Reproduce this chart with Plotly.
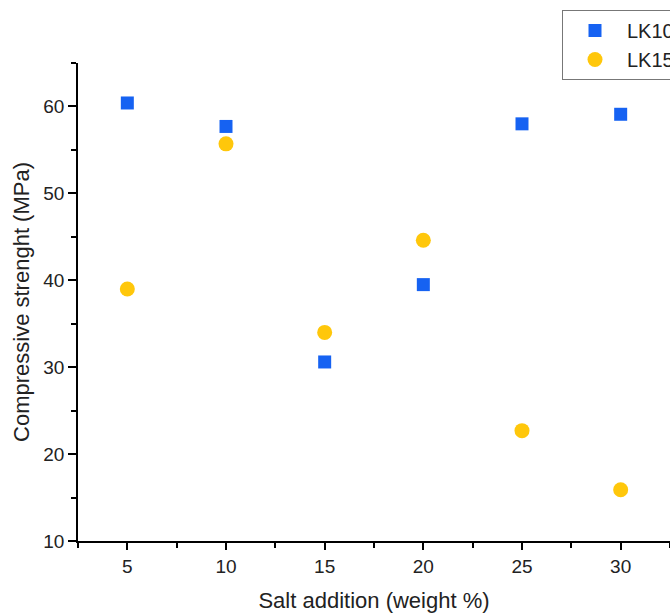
import plotly.graph_objects as go

salt = [5, 10, 15, 20, 25, 30]
lk10 = [60.4, 57.7, 30.6, 39.5, 58.0, 59.1]
lk15 = [39.0, 55.7, 34.0, 44.6, 22.7, 15.9]

fig = go.Figure()
fig.add_trace(go.Scatter(x=salt, y=lk10, mode="markers", name="LK10",
                         marker=dict(symbol="square", size=13, color="#1662f2")))
fig.add_trace(go.Scatter(x=salt, y=lk15, mode="markers", name="LK15",
                         marker=dict(symbol="circle", size=15, color="#ffc70b")))

L, R, T, B = 78, 0, 63, 74
W, H = 670, 615
pw = W - L - R
ph = H - T - B

fig.update_layout(
    width=W, height=H,
    margin=dict(l=L, r=R, t=T, b=B, autoexpand=False),
    paper_bgcolor="white", plot_bgcolor="white",
    font=dict(family="Liberation Sans, Arial, sans-serif", color="#222", size=18),
    showlegend=True,
    legend=dict(x=(562 - L) / pw, y=(ph + T - 10) / ph, xanchor="left", yanchor="top",
                bordercolor="#777", borderwidth=1, bgcolor="white",
                font=dict(size=20, color="#222"), itemsizing="trace",
                itemwidth=54, tracegroupgap=0),
    xaxis=dict(range=[2.5, 32.5], tickvals=[5, 10, 15, 20, 25, 30],
               showline=True, linecolor="black", linewidth=1.5,
               ticks="outside", ticklen=7, tickwidth=1.5, tickcolor="black",
               minor=dict(tickvals=[2.5, 7.5, 12.5, 17.5, 22.5, 27.5, 32.5],
                          ticks="outside", ticklen=5, tickwidth=1.5, tickcolor="black"),
               showgrid=False, zeroline=False,
               title=dict(text="Salt addition (weight %)", font=dict(size=22), standoff=17),
               tickfont=dict(size=19)),
    yaxis=dict(range=[10, 65], tickvals=[10, 20, 30, 40, 50, 60],
               showline=True, linecolor="black", linewidth=1.5,
               ticks="outside", ticklen=8, tickwidth=1.5, tickcolor="black",
               minor=dict(tickvals=[15, 25, 35, 45, 55, 65],
                          ticks="outside", ticklen=5, tickwidth=1.5, tickcolor="black"),
               showgrid=False, zeroline=False,
               title=dict(text="Compressive strenght (MPa)", font=dict(size=22), standoff=8),
               tickfont=dict(size=19)),
)

fig.write_html("out.html", config={"displayModeBar": False},
               post_script="document.body.style.margin='0';document.body.style.overflow='hidden';")
